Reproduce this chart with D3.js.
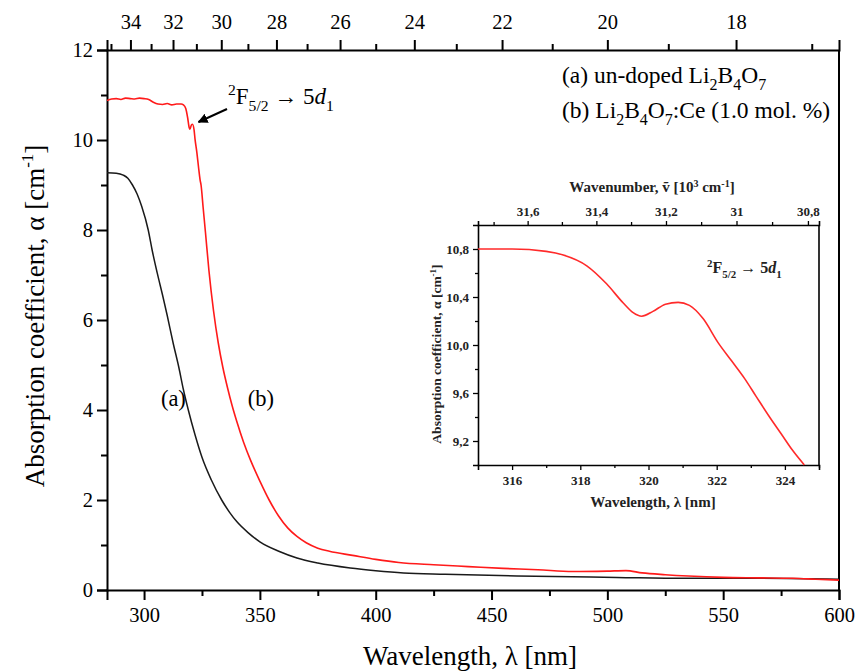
<!DOCTYPE html>
<html><head><meta charset="utf-8">
<script src="https://cdn.jsdelivr.net/npm/d3@7"></script>
<style>
body{margin:0;background:#fff;}
svg{display:block;}
svg text{font-family:"Liberation Serif","Times New Roman",serif;}
</style></head>
<body><svg id="c" width="858" height="672"></svg>
<script>
// ---- data ----
const wavelengthTicks = [300,350,400,450,500,550,600];
const wavelengthMinor = [325,375,425,475,525,575];
const wavenumberTicks = [34,32,30,28,26,24,22,20,18];
const wavenumberMinor = [35,33,31,29,27,25,23,21,19,17];
const alphaTicks = [0,2,4,6,8,10,12];
const alphaMinor = [1,3,5,7,9,11];

// (a) un-doped Li2B4O7
const undopedWl = [284,288,291,293,295,297,299,301.8,303.5,305.7,308,310,312.5,315,317,319.1,322,325,329,333.5,337,340,345,350,358.7,366,375,389,400,412,430,461,504,533,562,600];
const undopedA  = [9.27,9.26,9.22,9.15,9.0,8.8,8.52,8.0,7.55,7.04,6.55,6.1,5.5,4.95,4.45,4.0,3.45,2.95,2.45,2.0,1.72,1.52,1.27,1.07,0.85,0.71,0.6,0.49,0.43,0.38,0.35,0.31,0.28,0.26,0.26,0.24];

// (b) Li2B4O7:Ce (1.0 mol.%)
const cedopedWl = [284,286,288,290,292,294,296,298,300,302,304,306,308,310,312,314,316,317,318,318.8,319.5,319.8,320.5,320.9,321.6,322.0,322.8,323.5,324.2,324.6,325.5,326.5,328,330,332,334,336,338,340,343,346,350,354,358,362,366,370,375,380,390,400,410,425,440,455,470,485,500,508,515,525,535,550,565,580,590,600];
const cedopedA  = [10.88,10.91,10.92,10.90,10.93,10.92,10.91,10.93,10.92,10.90,10.84,10.80,10.79,10.81,10.78,10.80,10.80,10.78,10.70,10.50,10.27,10.24,10.34,10.35,10.22,10.02,9.72,9.40,9.11,9.0,8.5,7.95,7.1,6.2,5.5,4.95,4.5,4.1,3.75,3.28,2.88,2.42,2.0,1.65,1.38,1.19,1.05,0.93,0.86,0.77,0.68,0.61,0.56,0.52,0.48,0.45,0.41,0.42,0.43,0.38,0.34,0.31,0.28,0.27,0.26,0.24,0.22];

// inset (zoom of curve b)
const insetWl = [315,316,317,317.5,318.19,318.77,319.26,319.55,319.8,320.13,320.5,320.87,321.2,321.6,322.04,322.43,322.82,323.16,323.55,323.89,324.23,324.57];
const insetA  = [10.80,10.80,10.78,10.75,10.66,10.51,10.35,10.27,10.24,10.28,10.34,10.355,10.33,10.22,10.02,9.87,9.72,9.57,9.40,9.26,9.12,9.0];
const insetXTicks = [316,318,320,322,324];
const insetXMinor = [317,319,321,323,325];
const insetYTicks = [9.2,9.6,10.0,10.4,10.8];
const insetYMinor = [9.4,9.8,10.2,10.6];
const insetWnTicks = [31.6,31.4,31.2,31.0,30.8];
const insetWnMinor = [31.7,31.5,31.3,31.1,30.9];

// ---- layout ----
const svg = d3.select("#c");
const FF = "Liberation Serif, Times New Roman, serif";
const x = d3.scaleLinear().domain([284,600]).range([107,839]);
const y = d3.scaleLinear().domain([0,12]).range([590,50]);
const fontTick = 20.5;

function styleAxis(g, fs){
  g.attr("font-family",FF);
  g.selectAll("path.domain").attr("stroke","#000").attr("stroke-width",2);
  g.selectAll(".tick line").attr("stroke","#000").attr("stroke-width",2);
  g.selectAll(".tick text").attr("font-family",FF).attr("font-size",fs).attr("fill","#000");
}
function minor(g, sw){
  g.selectAll("path.domain").remove();
  g.selectAll(".tick line").attr("stroke","#000").attr("stroke-width",sw);
  g.selectAll(".tick text").remove();
}

// main axes
const gx = svg.append("g").attr("transform","translate(0,590)")
  .call(d3.axisBottom(x).tickValues(wavelengthTicks).tickSize(10).tickPadding(7).tickFormat(d3.format("d")));
styleAxis(gx, fontTick);
svg.append("g").attr("transform","translate(0,590)")
  .call(d3.axisBottom(x).tickValues(wavelengthMinor).tickSize(6)).call(g=>minor(g,2));

const gy = svg.append("g").attr("transform","translate(107,0)")
  .call(d3.axisLeft(y).tickValues(alphaTicks).tickSize(10).tickPadding(4).tickFormat(d3.format("d")));
styleAxis(gy, fontTick);
svg.append("g").attr("transform","translate(107,0)")
  .call(d3.axisLeft(y).tickValues(alphaMinor).tickSize(6)).call(g=>minor(g,2));

const gt = svg.append("g").attr("transform","translate(0,50)")
  .call(d3.axisTop(x).tickValues(wavenumberTicks.map(k=>1e4/k)).tickSize(10).tickPadding(11)
    .tickFormat(d=>String(Math.round(1e4/d))));
styleAxis(gt, fontTick);
svg.append("g").attr("transform","translate(0,50)")
  .call(d3.axisTop(x).tickValues(wavenumberMinor.map(k=>1e4/k).filter(v=>v>=284&&v<=600)).tickSize(6)).call(g=>minor(g,2));

// right frame
svg.append("line").attr("x1",x(600)).attr("x2",x(600)).attr("y1",y(12)).attr("y2",y(0))
  .attr("stroke","#000").attr("stroke-width",2);

// curves
const line = d3.line().x(d=>x(d[0])).y(d=>y(d[1])).curve(d3.curveMonotoneX);
svg.append("path").datum(undopedWl.map((w,i)=>[w,undopedA[i]]))
  .attr("d",line).attr("fill","none").attr("stroke","#1a1a1a").attr("stroke-width",1.5);
svg.append("path").datum(cedopedWl.map((w,i)=>[w,cedopedA[i]]))
  .attr("d",line).attr("fill","none").attr("stroke","#ff1a1a").attr("stroke-width",1.6);

// axis titles
svg.append("text").attr("transform","translate(44,316) rotate(-90)")
  .attr("text-anchor","middle").attr("font-size",27)
  .call(t=>{t.append("tspan").text("Absorption coefficient, α [cm");
    t.append("tspan").attr("dy",-11).attr("font-size",17).text("-1");
    t.append("tspan").attr("dy",11).text("]");});
svg.append("text").attr("x",470).attr("y",665).attr("text-anchor","middle").attr("font-size",27)
  .text("Wavelength, λ [nm]");

// curve labels
svg.append("text").attr("x",x(320)-17).attr("y",y(4.1)).attr("text-anchor","middle").attr("font-size",22.5).text("(a)");
svg.append("text").attr("x",x(350)+1).attr("y",y(4.1)).attr("text-anchor","middle").attr("font-size",22.5).text("(b)");

// legend text
function chem(t, pre, post){
  t.append("tspan").text(pre+"Li");
  t.append("tspan").attr("dy",7).attr("font-size",16).text("2");
  t.append("tspan").attr("dy",-7).text("B");
  t.append("tspan").attr("dy",7).attr("font-size",16).text("4");
  t.append("tspan").attr("dy",-7).text("O");
  t.append("tspan").attr("dy",7).attr("font-size",16).text("7");
  t.append("tspan").attr("dy",-7).text(post);
}
svg.append("text").attr("x",562).attr("y",83).attr("font-size",23.5).call(t=>chem(t,"(a) un-doped ",""));
svg.append("text").attr("x",562).attr("y",118).attr("font-size",23.5).call(t=>chem(t,"(b) ",":Ce (1.0 mol. %)"));

// transition annotation
function trans(t, fs){
  const s = fs*0.68;
  t.append("tspan").attr("font-size",s).attr("dy",-fs*0.38).text("2");
  t.append("tspan").attr("dy",fs*0.38).text("F");
  t.append("tspan").attr("font-size",s).attr("dy",fs*0.3).text("5/2");
  t.append("tspan").attr("dy",-fs*0.3).text(" → 5");
  t.append("tspan").attr("font-style","italic").text("d");
  t.append("tspan").attr("font-size",s).attr("dy",fs*0.3).text("1");
}
svg.append("text").attr("x",228).attr("y",104).attr("font-size",23).call(t=>trans(t,23));
svg.append("defs").append("marker").attr("id","ah").attr("viewBox","0 0 10 10").attr("refX",9).attr("refY",5)
  .attr("markerWidth",5).attr("markerHeight",5).attr("orient","auto")
  .append("path").attr("d","M0,0L10,5L0,10z").attr("fill","#000");
svg.append("line").attr("x1",227).attr("y1",109).attr("x2",x(323.5)).attr("y2",y(10.4))
  .attr("stroke","#000").attr("stroke-width",2).attr("marker-end","url(#ah)");

// ---- inset ----
const xi = d3.scaleLinear().domain([315,325]).range([478,819]);
const yi = d3.scaleLinear().domain([9.0,11.0]).range([465,225]);
const fsI = 13;
function styleI(g){
  g.attr("font-family",FF);
  g.selectAll("path.domain").attr("stroke","#000").attr("stroke-width",1.6);
  g.selectAll(".tick line").attr("stroke","#000").attr("stroke-width",1.3);
  g.selectAll(".tick text").attr("font-family",FF).attr("font-size",fsI).attr("font-weight","bold").attr("fill","#222");
}
const comma = d=>d3.format(".1f")(d).replace(".",",");
svg.append("g").attr("transform","translate(0,465)")
  .call(d3.axisBottom(xi).tickValues(insetXTicks).tickSize(5).tickPadding(6).tickFormat(d3.format("d"))).call(styleI);
svg.append("g").attr("transform","translate(0,465)")
  .call(d3.axisBottom(xi).tickValues(insetXMinor).tickSize(3)).call(g=>minor(g,1.3));
svg.append("g").attr("transform","translate(478,0)")
  .call(d3.axisLeft(yi).tickValues(insetYTicks).tickSize(5).tickPadding(4).tickFormat(comma)).call(styleI);
svg.append("g").attr("transform","translate(478,0)")
  .call(d3.axisLeft(yi).tickValues(insetYMinor).tickSize(3)).call(g=>minor(g,1.3));
svg.append("g").attr("transform","translate(0,225)")
  .call(d3.axisTop(xi).tickValues(insetWnTicks.map(k=>1e4/k)).tickSize(4).tickPadding(5)
    .tickFormat(d=>{const k=Math.round(1e4/d*10)/10; return k===31?"31":comma(k);})).call(styleI);
svg.append("g").attr("transform","translate(0,225)")
  .call(d3.axisTop(xi).tickValues(insetWnMinor.map(k=>1e4/k)).tickSize(3)).call(g=>minor(g,1.3));
svg.append("line").attr("x1",819).attr("x2",819).attr("y1",225).attr("y2",465).attr("stroke","#000").attr("stroke-width",1.6);

const lineI = d3.line().x(d=>xi(d[0])).y(d=>yi(d[1])).curve(d3.curveMonotoneX);
svg.append("path").datum(insetWl.map((w,i)=>[w,insetA[i]]))
  .attr("d",lineI).attr("fill","none").attr("stroke","#ff2a2a").attr("stroke-width",1.6);

svg.append("text").attr("x",652).attr("y",192).attr("text-anchor","middle").attr("font-size",15).attr("font-weight","bold").attr("fill","#222")
  .call(t=>{t.append("tspan").text("Wavenumber, ṽ [10");
    t.append("tspan").attr("dy",-5).attr("font-size",10).text("3");
    t.append("tspan").attr("dy",5).text(" cm");
    t.append("tspan").attr("dy",-5).attr("font-size",10).text("-1");
    t.append("tspan").attr("dy",5).text("]");});
svg.append("text").attr("x",653).attr("y",507).attr("text-anchor","middle").attr("font-size",15).attr("font-weight","bold").attr("fill","#222")
  .text("Wavelength, λ [nm]");
svg.append("text").attr("transform","translate(441,354) rotate(-90)").attr("text-anchor","middle").attr("font-size",13.5).attr("font-weight","bold").attr("fill","#222")
  .call(t=>{t.append("tspan").text("Absorption coefficient, α [cm");
    t.append("tspan").attr("dy",-5).attr("font-size",9).text("-1");
    t.append("tspan").attr("dy",5).text("]");});
svg.append("text").attr("x",707).attr("y",273).attr("font-size",16).attr("font-weight","bold").attr("fill","#222").call(t=>trans(t,16));
</script></body></html>
